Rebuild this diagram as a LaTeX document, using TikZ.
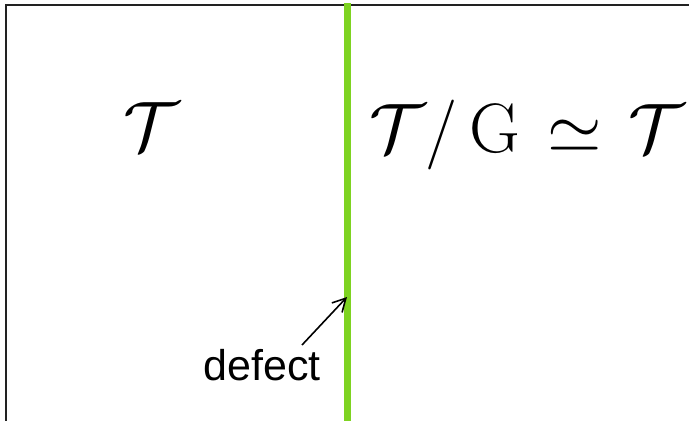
\documentclass[tikz,border=0pt]{standalone}
\usepackage{fix-cm}
\usepackage{fontspec}
\newfontfamily\labelfont{Liberation Sans}
\usetikzlibrary{arrows.meta}
\definecolor{defgreen}{RGB}{126,211,33}
\definecolor{framegray}{RGB}{34,34,34}
\tikzset{
  frameline/.style={draw=framegray, line width=2.4pt},
  defectline/.style={draw=defgreen, line width=7pt},
  mathlabel/.style={inner sep=0pt, anchor=base, font=\fontsize{70}{80}\selectfont},
  textlabel/.style={inner sep=0pt, anchor=base, font=\labelfont\fontsize{43}{50}\selectfont},
  pointer/.style={draw=black, line width=1.6pt, -{Straight Barb[length=13pt,width=14pt,line width=1.6pt]}}
}
\begin{document}
\begin{tikzpicture}[x=1pt,y=-1pt]
  \useasboundingbox (0,0) rectangle (689,421);
  \coordinate (ftop) at (6,5);
  \coordinate (fright) at (689,5);
  \coordinate (fbottom) at (6,421);
  \draw[frameline] (fright) -- (ftop) -- (fbottom);
  \coordinate (gtop) at (347.5,3);
  \coordinate (gbottom) at (347.5,421);
  \draw[defectline] (gtop) -- (gbottom);
  \node[mathlabel] (left) at (151,150) {$\mathcal{T}$};
  \node[mathlabel] (right) at (527,152) {$\mathcal{T}/\,\mathrm{G}\mathrel{\mkern2mu\simeq\mkern2mu}\mathcal{T}$};
  \node[textlabel] (defect) at (262,380) {defect};
  \coordinate (tail) at (302,345);
  \coordinate (tip) at (347,297);
  \draw[pointer] (tail) -- (tip);
\end{tikzpicture}
\end{document}
